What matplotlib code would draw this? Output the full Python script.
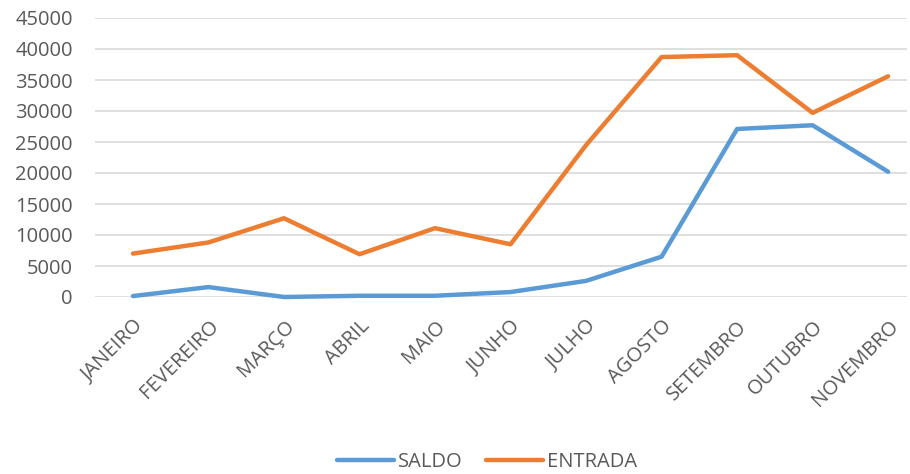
import matplotlib
matplotlib.use("Agg")
import matplotlib.pyplot as plt

months = ["JANEIRO", "FEVEREIRO", "MARÇO", "ABRIL", "MAIO", "JUNHO",
          "JULHO", "AGOSTO", "SETEMBRO", "OUTUBRO", "NOVEMBRO"]
saldo = [150, 1600, 0, 200, 200, 800, 2600, 6500, 27100, 27700, 20200]
entrada = [7000, 8800, 12700, 6900, 11100, 8500, 24500, 38700, 39000, 29700, 35600]
yticks = list(range(0, 45001, 5000))

plt.rcParams['font.family'] = ['Open Sans', 'DejaVu Sans']
W, H = 910, 474
fig = plt.figure(figsize=(W/100, H/100), dpi=100)
ax = fig.add_axes([95/W, 1-297/H, (907-95)/W, (297-18)/H])

x = list(range(len(months)))
ax.plot(x, saldo, color='#5b9bd5', lw=3.2, solid_capstyle='round', solid_joinstyle='round', label='SALDO', clip_on=False)
ax.plot(x, entrada, color='#ed7d31', lw=3.2, solid_capstyle='round', solid_joinstyle='round', label='ENTRADA', clip_on=False)

ax.set_ylim(0, 45000)
ax.set_yticks(yticks)
ax.set_yticklabels([str(v) for v in yticks])
ax.set_xlim(-0.503, 10.25)
ax.set_xticks(x)
ax.set_xticklabels(months, rotation=45, ha='right', rotation_mode='anchor')
ax.grid(axis='y', color='#d9d9d9', lw=1.2)
ax.set_axisbelow(True)
for s in ax.spines.values():
    s.set_visible(False)
ax.tick_params(axis='both', length=0, labelsize=14.5, colors='#595959')
ax.tick_params(axis='y', pad=16)
ax.tick_params(axis='x', pad=14)

leg = fig.legend(loc='center', bbox_to_anchor=(487/W, 1-462/H), ncol=2, frameon=False,
                 fontsize=14.5, handlelength=2.8, columnspacing=1.2, handletextpad=0.2)
for t in leg.get_texts():
    t.set_color('#595959')

fig.savefig('out.png', dpi=100)
